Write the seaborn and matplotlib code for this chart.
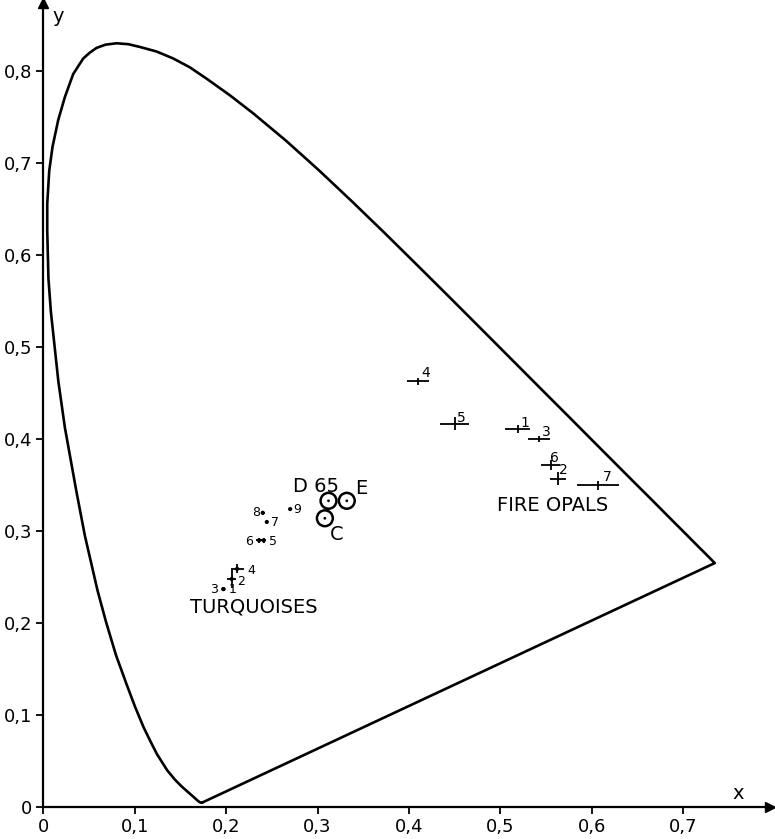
import matplotlib
matplotlib.use("Agg")
import matplotlib.pyplot as plt
import seaborn as sns
import pandas as pd

# spectral locus (blue end -> green peak -> red end)
locus_x = [0.1741, 0.1740, 0.1738, 0.1736, 0.1733, 0.1730, 0.1726, 0.1721, 0.1714, 0.1703,
           0.1689, 0.1669, 0.1644, 0.1611, 0.1566, 0.1510, 0.1440, 0.1355, 0.1241, 0.1170,
           0.1096, 0.1003, 0.0913, 0.0795, 0.0687, 0.0593, 0.0454, 0.0362, 0.0235, 0.0164,
           0.0082, 0.0055, 0.0042, 0.0042, 0.0064, 0.0100, 0.0162, 0.0235, 0.0326, 0.0436,
           0.0510, 0.0582, 0.0680, 0.0801, 0.0930, 0.1056, 0.1240, 0.1420, 0.1600, 0.1786,
           0.2040, 0.2296, 0.2658, 0.3016, 0.3373, 0.3731,
           0.4087, 0.4441, 0.4788, 0.5125, 0.5448, 0.5752, 0.6029, 0.6270, 0.6482, 0.6658,
           0.6801, 0.6915, 0.7006, 0.7079, 0.7140, 0.7190, 0.7230, 0.7260, 0.7283, 0.7300,
           0.7311, 0.7320, 0.7327, 0.7334, 0.7340, 0.7344, 0.7346, 0.7347]
locus_y = [0.0050, 0.0050, 0.0049, 0.0049, 0.0048, 0.0048, 0.0048, 0.0048, 0.0051, 0.0058,
           0.0069, 0.0086, 0.0109, 0.0138, 0.0177, 0.0227, 0.0297, 0.0399, 0.0578, 0.0717,
           0.0868, 0.1090, 0.1327, 0.1650, 0.2007, 0.2352, 0.2950, 0.3427, 0.4127, 0.4626,
           0.5384, 0.5750, 0.6270, 0.6560, 0.6920, 0.7180, 0.7470, 0.7720, 0.7970, 0.8140,
           0.8205, 0.8255, 0.8290, 0.8305, 0.8295, 0.8265, 0.8215, 0.8140, 0.8045, 0.7920,
           0.7740, 0.7543, 0.7243, 0.6923, 0.6589, 0.6245,
           0.5896, 0.5547, 0.5202, 0.4866, 0.4544, 0.4242, 0.3965, 0.3725, 0.3514, 0.3340,
           0.3197, 0.3083, 0.2993, 0.2920, 0.2859, 0.2809, 0.2770, 0.2740, 0.2717, 0.2700,
           0.2689, 0.2680, 0.2673, 0.2666, 0.2660, 0.2656, 0.2654, 0.2653]

# turquoises
turq_lab = ['1', '2', '3', '4', '5', '6', '7', '8', '9']
turq_x = [0.197, 0.206, 0.197, 0.212, 0.241, 0.236, 0.2445, 0.240, 0.270]
turq_y = [0.237, 0.248, 0.237, 0.259, 0.290, 0.290, 0.310, 0.320, 0.324]
turq_xerr = [0.0, 0.005, 0.0, 0.007, 0.003, 0.003, 0.0, 0.002, 0.0]
turq_yerr = [0.0, 0.010, 0.0, 0.005, 0.003, 0.003, 0.0, 0.002, 0.0]
turq_off = [(9, 0), (9, -3), (-9, 0), (14, -2), (9, -1), (-10, -1), (8, -1), (-7, 0), (7, 0)]

# fire opals
opal_lab = ['1', '2', '3', '4', '5', '6', '7']
opal_x = [0.519, 0.563, 0.542, 0.410, 0.450, 0.555, 0.607]
opal_y = [0.411, 0.357, 0.400, 0.463, 0.417, 0.372, 0.350]
opal_xerr = [0.0137, 0.009, 0.012, 0.0125, 0.016, 0.010, 0.023]
opal_yerr = [0.004, 0.007, 0.003, 0.004, 0.007, 0.005, 0.005]
opal_off = [(7, 6), (5, 9), (8, 7), (8, 8), (7, 6), (4, 7), (9, 8)]

# illuminants
ill_lab = ['D 65', 'E', 'C']
ill_x = [0.312, 0.332, 0.308]
ill_y = [0.333, 0.333, 0.314]
ill_off = [(-13, 14), (14, 12), (12, -16)]

sns.set_style("ticks")
plt.rcParams['font.family'] = ['DejaVu Sans']
plt.rcParams['text.color'] = 'black'
plt.rcParams['xtick.color'] = 'black'
plt.rcParams['ytick.color'] = 'black'

fig = plt.figure(figsize=(7.75, 8.39), dpi=100)
ax = fig.add_axes([0.056, 0.0381, 0.9374, 0.958])

loc = pd.DataFrame({'x': locus_x + [locus_x[0]], 'y': locus_y + [locus_y[0]]})
sns.lineplot(data=loc, x='x', y='y', sort=False, estimator=None, color='black', lw=1.9, ax=ax)

ax.errorbar(turq_x, turq_y, xerr=turq_xerr, yerr=turq_yerr, fmt='none', ecolor='black', elinewidth=1.3)
sns.scatterplot(x=turq_x, y=turq_y, color='black', s=9, edgecolor='none', ax=ax)
for lab, x, y, off in zip(turq_lab, turq_x, turq_y, turq_off):
    ax.annotate(lab, (x, y), xytext=off, textcoords='offset pixels', ha='center', va='center', fontsize=9)

ax.errorbar(opal_x, opal_y, xerr=opal_xerr, yerr=opal_yerr, fmt='none', ecolor='black', elinewidth=1.3)
for lab, x, y, off in zip(opal_lab, opal_x, opal_y, opal_off):
    ax.annotate(lab, (x, y), xytext=off, textcoords='offset pixels', ha='center', va='center', fontsize=10)

sns.scatterplot(x=ill_x, y=ill_y, marker='o', s=130, facecolor='none', edgecolor='black', linewidth=1.8, ax=ax)
sns.scatterplot(x=ill_x, y=ill_y, color='black', s=4, edgecolor='none', ax=ax)
for lab, x, y, off in zip(ill_lab, ill_x, ill_y, ill_off):
    ax.annotate(lab, (x, y), xytext=off, textcoords='offset pixels', ha='center', va='center', fontsize=14)

ax.text(0.160, 0.217, 'TURQUOISES', ha='left', va='center', fontsize=14)
ax.text(0.496, 0.328, 'FIRE OPALS', ha='left', va='center', fontsize=14)

ax.set_xlim(0, 0.795)
ax.set_ylim(0, 0.874)
xt = [0, 0.1, 0.2, 0.3, 0.4, 0.5, 0.6, 0.7]
yt = [0, 0.1, 0.2, 0.3, 0.4, 0.5, 0.6, 0.7, 0.8]
ax.set_xticks(xt)
ax.set_yticks(yt)
ax.set_xticklabels(['0' if v == 0 else ('%.1f' % v).replace('.', ',') for v in xt], fontsize=13)
ax.set_yticklabels(['0' if v == 0 else ('%.1f' % v).replace('.', ',') for v in yt], fontsize=13)
ax.tick_params(length=5, width=1.3, pad=3, colors='black')
ax.set_xlabel('')
ax.set_ylabel('')
for s in ['top', 'right']:
    ax.spines[s].set_visible(False)
for s in ['left', 'bottom']:
    ax.spines[s].set_linewidth(1.6)
    ax.spines[s].set_color('black')
ax.plot(1, 0, '>k', ms=7, transform=ax.transAxes, clip_on=False)
ax.plot(0, 1, '^k', ms=7, transform=ax.transAxes, clip_on=False)
ax.text(0.76, 0.004, 'x', fontsize=14, ha='center', va='bottom')
ax.text(0.01, 0.86, 'y', fontsize=14, ha='left', va='center')

fig.savefig('out.png', dpi=100)
